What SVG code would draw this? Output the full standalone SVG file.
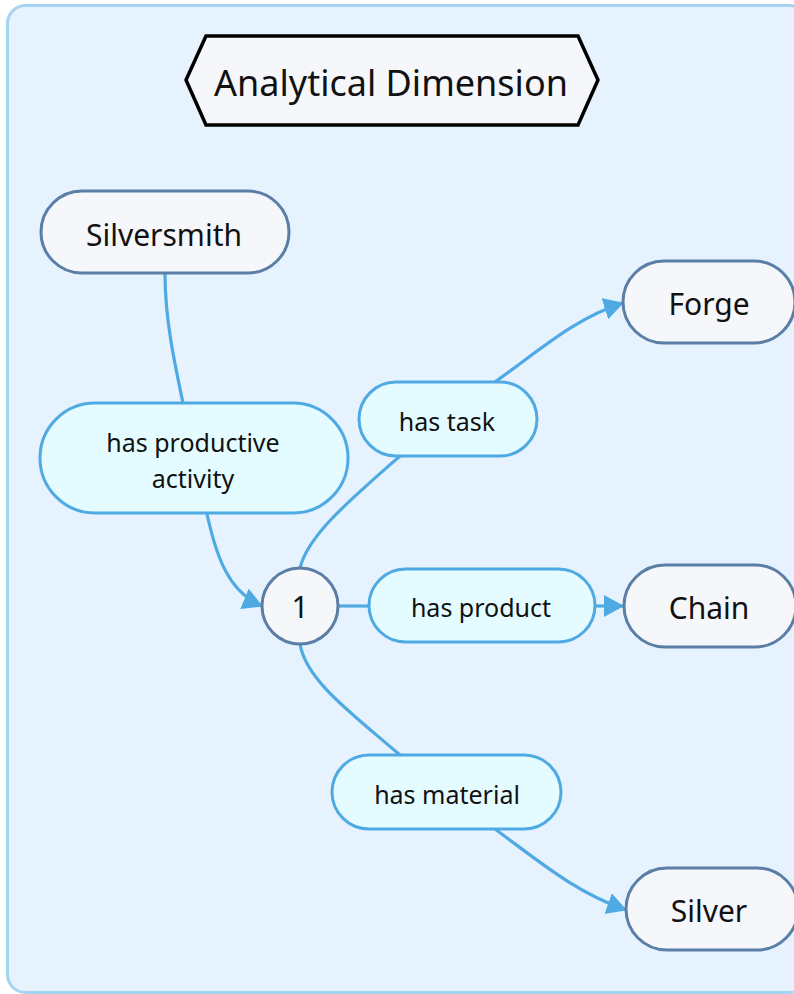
<svg xmlns="http://www.w3.org/2000/svg" width="794" height="994" viewBox="0 0 794 994">
<defs>
<style>
text{font-family:"Noto Sans","Open Sans","DejaVu Sans",sans-serif;fill:#111;text-anchor:middle;dominant-baseline:central}
.node{fill:#f5f7fa;stroke:#5b7ea6;stroke-width:3}
.link{fill:#e4fcff;stroke:#4faae3;stroke-width:3}
.conn{fill:none;stroke:#4faae3;stroke-width:3.2}
.big{font-size:30px}
.lbl{font-size:25px}
</style>
<marker id="arr" markerUnits="userSpaceOnUse" markerWidth="22" markerHeight="24" refX="19" refY="11" orient="auto">
<path d="M0,0 L20,11 L0,22 Z" fill="#4faae3"/>
</marker>
</defs>
<rect x="7.5" y="5.5" width="800" height="987" rx="18" fill="#e6f3fe" stroke="#a5d4f3" stroke-width="3"/>
<g id="connectors">
<path class="conn" d="M165,274 C165,320 175,365 183,403"/>
<path class="conn" d="M207,514 C216,555 228,592 262,606" marker-end="url(#arr)"/>
<path class="conn" d="M300,568 C308,535 350,500 400,456"/>
<path class="conn" d="M495,382 C540,350 575,318 623,303" marker-end="url(#arr)"/>
<path class="conn" d="M338,606 L369,606"/>
<path class="conn" d="M595,606 L623,606" marker-end="url(#arr)"/>
<path class="conn" d="M300,644 C306,680 350,712 400,755"/>
<path class="conn" d="M495,829 C540,862 575,892 626,910" marker-end="url(#arr)"/>
</g>
<g id="title">
<polygon points="186,80 206,36 578,36 598,80 578,125 206,125" fill="#f5f7fa" stroke="#000" stroke-width="3.5" stroke-linejoin="miter"/>
<text x="391" y="82" style="font-size:36px">Analytical Dimension</text>
</g>
<g id="silversmith">
<rect class="node" x="41" y="191" width="248" height="82" rx="41"/>
<text class="big" x="164" y="234">Silversmith</text>
</g>
<g id="has-productive-activity">
<rect class="link" x="40" y="403" width="308" height="110" rx="55"/>
<text class="lbl" x="193" y="442">has productive</text>
<text class="lbl" x="193" y="478">activity</text>
</g>
<g id="node-1">
<circle cx="300" cy="606" r="38" fill="#f5f7fa" stroke="#5b7ea6" stroke-width="3"/>
<text class="big" x="300" y="606">1</text>
</g>
<g id="has-task">
<rect class="link" x="359" y="382" width="178" height="74" rx="37"/>
<text class="lbl" x="447" y="421">has task</text>
</g>
<g id="has-product">
<rect class="link" x="369" y="569" width="226" height="73" rx="36.5"/>
<text class="lbl" x="481" y="607">has product</text>
</g>
<g id="has-material">
<rect class="link" x="332" y="755" width="229" height="74" rx="37"/>
<text class="lbl" x="447" y="794">has material</text>
</g>
<g id="forge">
<rect class="node" x="623" y="261" width="172" height="82" rx="41"/>
<text class="big" x="709" y="303">Forge</text>
</g>
<g id="chain">
<rect class="node" x="624" y="565" width="172" height="82" rx="41"/>
<text class="big" x="709" y="607">Chain</text>
</g>
<g id="silver">
<rect class="node" x="626" y="868" width="172" height="82" rx="41"/>
<text class="big" x="709" y="910">Silver</text>
</g>
</svg>
